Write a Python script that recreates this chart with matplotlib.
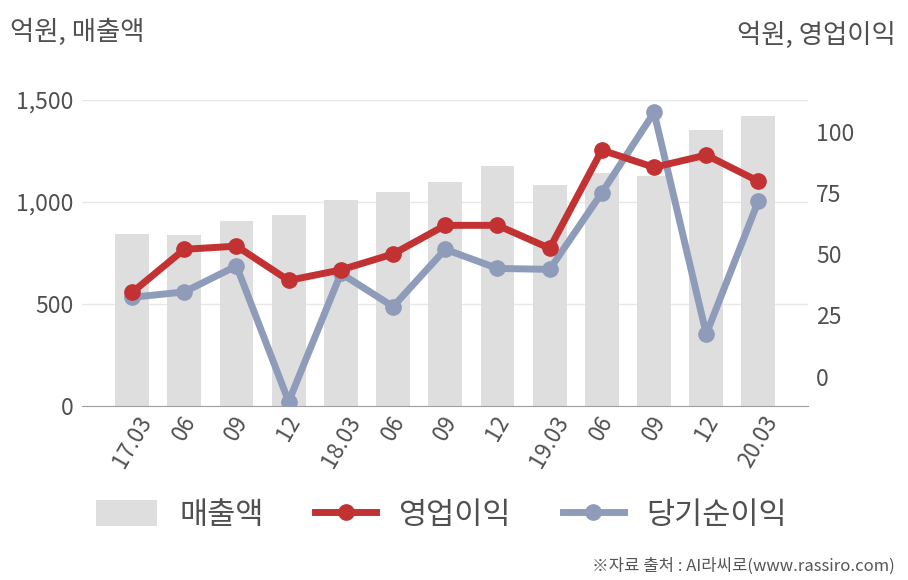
import matplotlib
matplotlib.use('Agg')
import matplotlib.pyplot as plt
from matplotlib.ticker import FuncFormatter

plt.rcParams['font.family'] = ['Noto Sans CJK KR', 'DejaVu Sans']

# 데이터
quarters = ['17.03', '06', '09', '12', '18.03', '06', '09', '12',
            '19.03', '06', '09', '12', '20.03']
sales = [843, 838, 907, 936, 1010, 1049, 1096, 1176, 1083, 1142, 1127, 1353, 1422]
op_profit = [34.4, 52.0, 53.3, 39.3, 43.6, 50.1, 61.8, 61.8, 52.4, 92.5, 85.5, 90.5, 79.8]
net_profit = [32.4, 34.6, 45.2, -10.2, 42.2, 28.6, 52.0, 44.2, 43.8, 75.1, 107.9, 17.4, 71.8]

bar_color = '#dedede'
red = '#c33232'
blue = '#8f9cb9'
text_color = '#505050'

fig = plt.figure(figsize=(9.08, 5.80), dpi=100)
ax = fig.add_axes([0.0903, 0.30, 0.7996, 0.5276])
ax2 = ax.twinx()

x = list(range(len(quarters)))
bars = ax.bar(x, sales, width=0.65, color=bar_color, zorder=1, label='매출액')
ax.set_ylim(0, 1500)
ax.set_xlim(-0.96, 12.95)
ax.set_yticks([0, 500, 1000, 1500])
ax.yaxis.set_major_formatter(FuncFormatter(lambda v, p: f'{int(v):,}'))
ax.grid(axis='y', color='#e8e8e8', linewidth=1)
ax.set_axisbelow(True)

l1, = ax2.plot(x, op_profit, color=red, linewidth=5, marker='o', markersize=11,
               label='영업이익', zorder=4)
l2, = ax2.plot(x, net_profit, color=blue, linewidth=5, marker='o', markersize=11,
               label='당기순이익', zorder=3)
ax2.set_ylim(-12, 113)
ax2.set_yticks([0, 25, 50, 75, 100])

for a in (ax, ax2):
    for s in ('top', 'left', 'right'):
        a.spines[s].set_visible(False)
    a.tick_params(length=0, colors=text_color, labelsize=16.5)
ax2.spines['bottom'].set_visible(False)
ax.spines['bottom'].set_color('#a0a0a0')
ax.tick_params(axis='y', pad=6)
ax2.tick_params(axis='y', pad=6)

ax.set_xticks(x)
ax.set_xticklabels(quarters, rotation=60, ha='center', va='top', fontsize=16)
ax.tick_params(axis='x', pad=4)

fig.text(0.011, 0.945, '억원, 매출액', fontsize=19, color=text_color, va='center')
fig.text(0.986, 0.94, '억원, 영업이익', fontsize=19, color=text_color, va='center', ha='right')

fig.legend(handles=[bars, l1, l2], loc='center', bbox_to_anchor=(0.486, 0.112),
           ncol=3, frameon=False, fontsize=22, handlelength=2.0, handleheight=0.9,
           columnspacing=1.7, handletextpad=0.72, labelcolor=text_color)

fig.text(0.985, 0.024, '※자료 출처 : AI라씨로(www.rassiro.com)', fontsize=12,
         color='#555555', ha='right', va='center')

fig.savefig('out.png', dpi=100)
